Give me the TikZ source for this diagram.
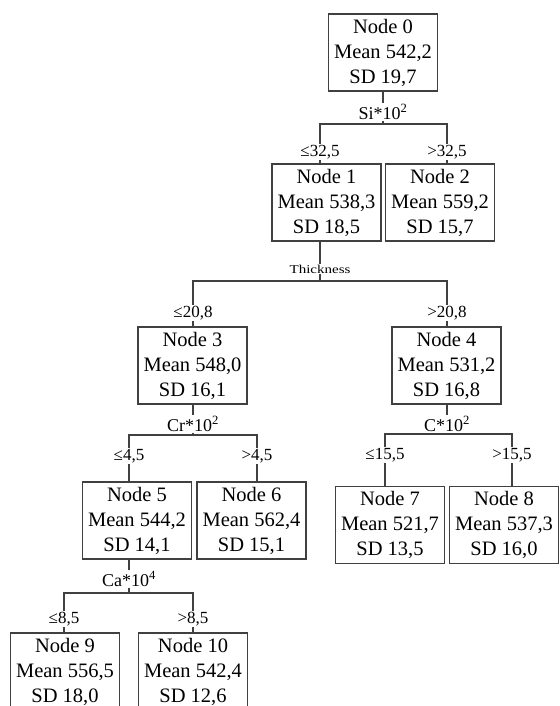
\documentclass[tikz,border=0pt]{standalone}
\usepackage{fontspec}
\setmainfont{Liberation Serif}
\usetikzlibrary{positioning}

\begin{document}
\begin{tikzpicture}[x=1pt,y=-1pt,
  box/.style={draw=black!75,rectangle,line width=1.5pt,minimum width=109pt,minimum height=77pt,inner sep=0pt,align=center,font=\fontsize{20.5}{25}\selectfont},
  splitvar/.style={inner sep=1pt,font=\fontsize{18}{20}\selectfont},
  cut/.style={inner sep=1pt,font=\fontsize{17}{20}\selectfont},
  edge/.style={draw=black!75,line width=1.5pt}]
  \useasboundingbox (0,0) rectangle (559,706);
  \node[box] (n0) at (383,52.5) {Node 0\\Mean 542,2\\SD 19,7};
  \node[box] (n1) at (326.5,202.5) {Node 1\\Mean 538,3\\SD 18,5};
  \node[box] (n2) at (440,202.5) {Node 2\\Mean 559,2\\SD 15,7};
  \node[box] (n3) at (192.5,365.5) {Node 3\\Mean 548,0\\SD 16,1};
  \node[box] (n4) at (446.5,365.5) {Node 4\\Mean 531,2\\SD 16,8};
  \node[box] (n5) at (137,520.5) {Node 5\\Mean 544,2\\SD 14,1};
  \node[box] (n6) at (251.5,520.5) {Node 6\\Mean 562,4\\SD 15,1};
  \node[box] (n7) at (390,525) {Node 7\\Mean 521,7\\SD 13,5};
  \node[box] (n8) at (504,525) {Node 8\\Mean 537,3\\SD 16,0};
  \node[box] (n9) at (65,671.5) {Node 9\\Mean 556,5\\SD 18,0};
  \node[box] (n10) at (193,671.5) {Node 10\\Mean 542,4\\SD 12,6};
  \node[splitvar] (s0) at (383,112) {Si*10\textsuperscript{2}};
  \node[splitvar] (s1) at (320,269) {\scalebox{1.25}[1]{\fontsize{12}{14}\selectfont Thickness}};
  \node[splitvar] (s3) at (193,424) {Cr*10\textsuperscript{2}};
  \node[splitvar] (s4) at (447,424) {C*10\textsuperscript{2}};
  \node[splitvar] (s5) at (129,579) {Ca*10\textsuperscript{4}};
  \coordinate (b0) at (0,124);
  \coordinate (b1) at (0,281);
  \coordinate (b3) at (0,435);
  \coordinate (b4) at (0,434);
  \coordinate (b5) at (0,593);
  \node[cut] (c1) at (320,152) {≤32,5};
  \node[cut] (c2) at (447,152) {>32,5};
  \node[cut] (c3) at (193,313) {≤20,8};
  \node[cut] (c4) at (447,313) {>20,8};
  \node[cut] (c5) at (129,456) {≤4,5};
  \node[cut] (c6) at (257,456) {>4,5};
  \node[cut] (c7) at (385,455) {≤15,5};
  \node[cut] (c8) at (512,455) {>15,5};
  \node[cut] (c9) at (64,619) {≤8,5};
  \node[cut] (c10) at (193,619) {>8,5};
  \draw[edge] (n0.south -| s0) -- (s0.north);
  \draw[edge] (s0.south) -- (s0.south |- b0);
  \draw[edge] (c1.north) -- (c1 |- b0) -- (c2 |- b0) -- (c2.north);
  \draw[edge] (c1.south) -- (c1.south |- n1.north);
  \draw[edge] (c2.south) -- (c2.south |- n2.north);
  \draw[edge] (n1.south -| s1) -- (s1.north);
  \draw[edge] (s1.south) -- (s1.south |- b1);
  \draw[edge] (c3.north) -- (c3 |- b1) -- (c4 |- b1) -- (c4.north);
  \draw[edge] (c3.south) -- (c3.south |- n3.north);
  \draw[edge] (c4.south) -- (c4.south |- n4.north);
  \draw[edge] (n3.south -| s3) -- (s3.north);
  \draw[edge] (s3.south) -- (s3.south |- b3);
  \draw[edge] (c5.north) -- (c5 |- b3) -- (c6 |- b3) -- (c6.north);
  \draw[edge] (c5.south) -- (c5.south |- n5.north);
  \draw[edge] (c6.south) -- (c6.south |- n6.north);
  \draw[edge] (n4.south -| s4) -- (s4.north);
  \draw[edge] (s4.south) -- (s4.south |- b4);
  \draw[edge] (c7.north) -- (c7 |- b4) -- (c8 |- b4) -- (c8.north);
  \draw[edge] (c7.south) -- (c7.south |- n7.north);
  \draw[edge] (c8.south) -- (c8.south |- n8.north);
  \draw[edge] (n5.south -| s5) -- (s5.north);
  \draw[edge] (s5.south) -- (s5.south |- b5);
  \draw[edge] (c9.north) -- (c9 |- b5) -- (c10 |- b5) -- (c10.north);
  \draw[edge] (c9.south) -- (c9.south |- n9.north);
  \draw[edge] (c10.south) -- (c10.south |- n10.north);
\end{tikzpicture}
\end{document}
